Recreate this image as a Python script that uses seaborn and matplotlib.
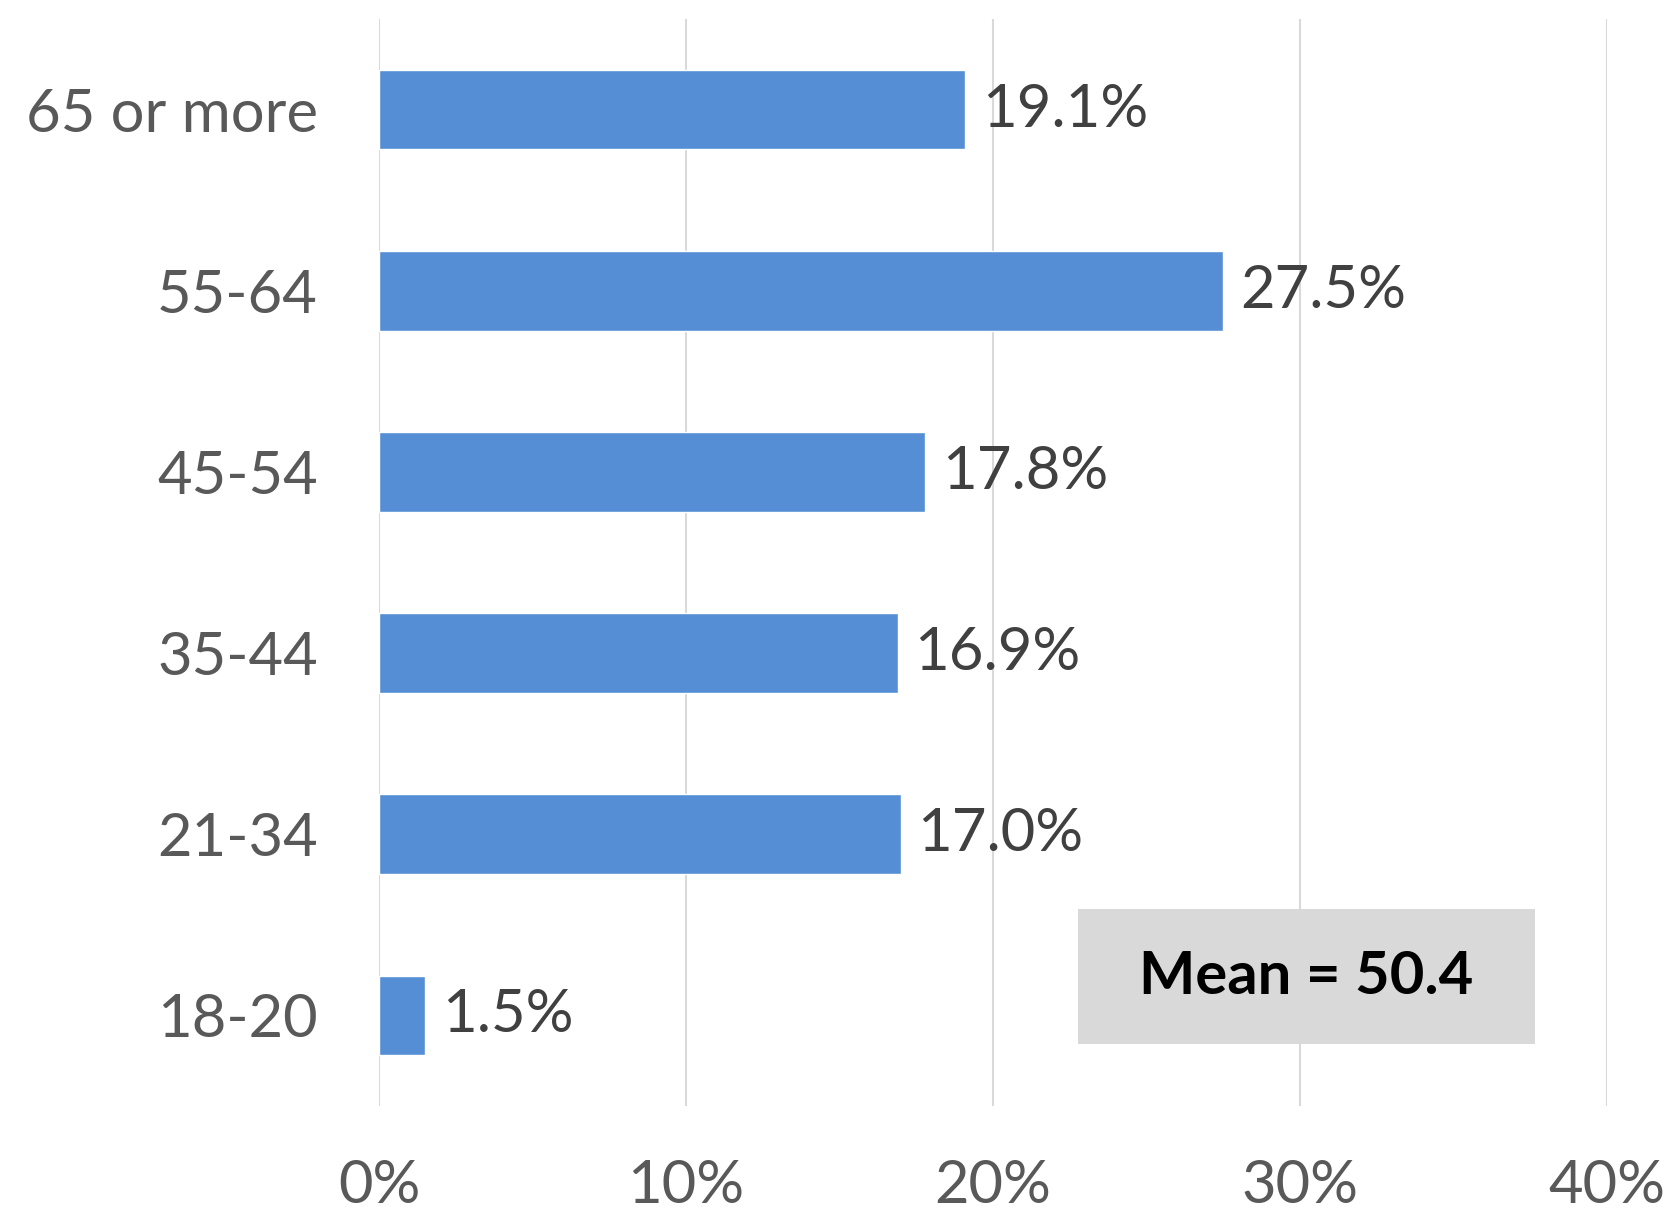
import matplotlib
matplotlib.use("Agg")
import matplotlib.pyplot as plt
import seaborn as sns
import pandas as pd
from matplotlib.patches import Rectangle

age_groups = ["65 or more", "55-64", "45-54", "35-44", "21-34", "18-20"]
shares = [19.1, 27.5, 17.8, 16.9, 17.0, 1.5]
x_ticks = [0, 10, 20, 30, 40]
mean_text = "Mean = 50.4"

df = pd.DataFrame({"age": age_groups, "share": shares})

sns.set_style("white")
plt.rcParams["font.family"] = ["Lato", "DejaVu Sans"]

fig = plt.figure(figsize=(16.69, 12.15), dpi=100)
ax = fig.add_axes([0.2271, 0.0897, 0.7357, 0.8947])

sns.barplot(data=df, x="share", y="age", orient="h", color="#558ed5",
            saturation=1, width=0.44, ax=ax)

ax.set_xlim(0, 40)
ax.set_ylim(5.5, -0.5)
ax.set_xticks(x_ticks)
ax.set_xticklabels([f"{t}%" for t in x_ticks])
ax.xaxis.grid(True, color="#d9d9d9", linewidth=1.5)
ax.set_axisbelow(True)
ax.set_xlabel("")
ax.set_ylabel("")
for s in ax.spines.values():
    s.set_visible(False)
ax.tick_params(axis="both", length=0, labelsize=43, colors="#595959")
ax.tick_params(axis="y", pad=44)
ax.tick_params(axis="x", pad=38)

for i, v in enumerate(shares):
    ax.annotate(f"{v:.1f}%", (v, i), xytext=(12, 0), textcoords="offset points",
                ha="left", va="center", fontsize=43, color="#404040")

# mean box
ax.add_patch(Rectangle((22.77, 4.41), 14.88, 0.745, facecolor="#d9d9d9",
                       edgecolor="none", zorder=3))
ax.text(30.2, 4.79, mean_text, ha="center", va="center", fontsize=43,
        fontweight="bold", color="black", zorder=4)

fig.savefig("out.png", dpi=100)
